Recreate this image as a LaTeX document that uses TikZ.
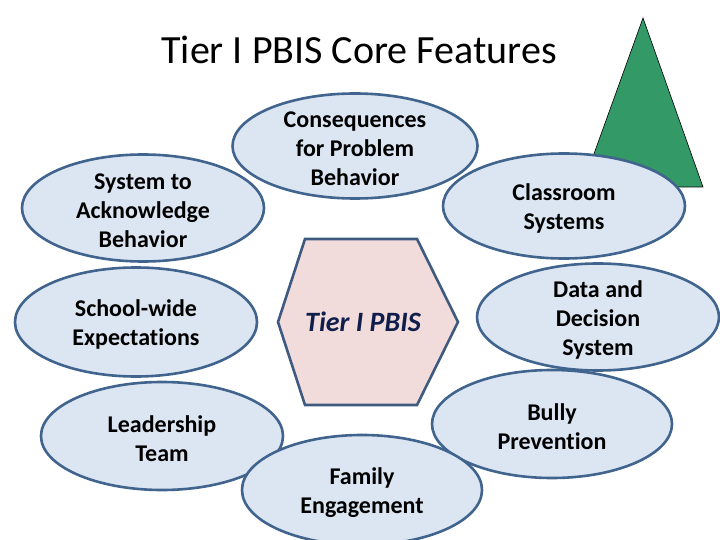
\documentclass[tikz,border=0pt]{standalone}
\usepackage{fontspec}
\setmainfont{Carlito}[Ligatures=NoCommon]
\usetikzlibrary{shapes.geometric}
\definecolor{featurefill}{HTML}{DCE6F2}
\definecolor{featureline}{HTML}{41648E}
\definecolor{corefill}{HTML}{F2DCDB}
\definecolor{coreline}{HTML}{3F5A80}
\definecolor{coretext}{HTML}{0F1E4A}
\definecolor{tiergreen}{HTML}{339966}

\begin{document}
\begin{tikzpicture}[
  x=1pt, y=-1pt,
  feature/.style={ellipse, draw=featureline, fill=featurefill, line width=2.6pt,
    minimum width=242pt, minimum height=107pt, inner sep=0pt,
    label={[featuretext]center:#1}},
  featuretext/.style={align=center, inner sep=0pt, yshift=-2.5pt, font=\fontsize{24}{29}\selectfont\bfseries}
]
\useasboundingbox[fill=white] (0,0) rectangle (720,540);

% title
\node[font=\fontsize{40}{46}\selectfont] (title) at (359,50) {Tier I PBIS Core Features};

% green triangle behind the classroom ellipse
\draw[fill=tiergreen, draw=black, line width=0.6pt] (643,18) -- (582,187) -- (703,187) -- cycle;

% core hexagon
\draw[fill=corefill, draw=coreline, line width=2.6pt]
  (305,239) -- (417,239) -- (458,322) -- (417,405) -- (305,405) -- (278,322) -- cycle;
\node[font=\fontsize{28}{34}\selectfont\bfseries\itshape, text=coretext] (tier) at (363,322) {Tier I PBIS};

% features
\node[feature={System to\\Acknowledge\\Behavior}] (acknowledge) at (143,208) {};
\node[feature={School-wide\\Expectations}, minimum height=109pt] (expectations) at (136,322) {};
\node[feature={Consequences\\for Problem\\Behavior}, minimum width=245pt, minimum height=105pt] (consequences) at (355,146) {};
\node[feature={Classroom\\Systems}, minimum height=105pt] (classroom) at (564,206) {};
\node[feature={Data and\\Decision\\System}] (datadecision) at (598,317) {};
\node[feature={Bully\\Prevention}, minimum width=240pt, minimum height=108pt] (bully) at (552,424) {};
\node[feature={Leadership\\Team}, minimum height=108pt] (leadership) at (162,436) {};
\node[feature={Family\\Engagement}, minimum width=240pt, minimum height=110pt] (family) at (362,490) {};

\end{tikzpicture}
\end{document}
